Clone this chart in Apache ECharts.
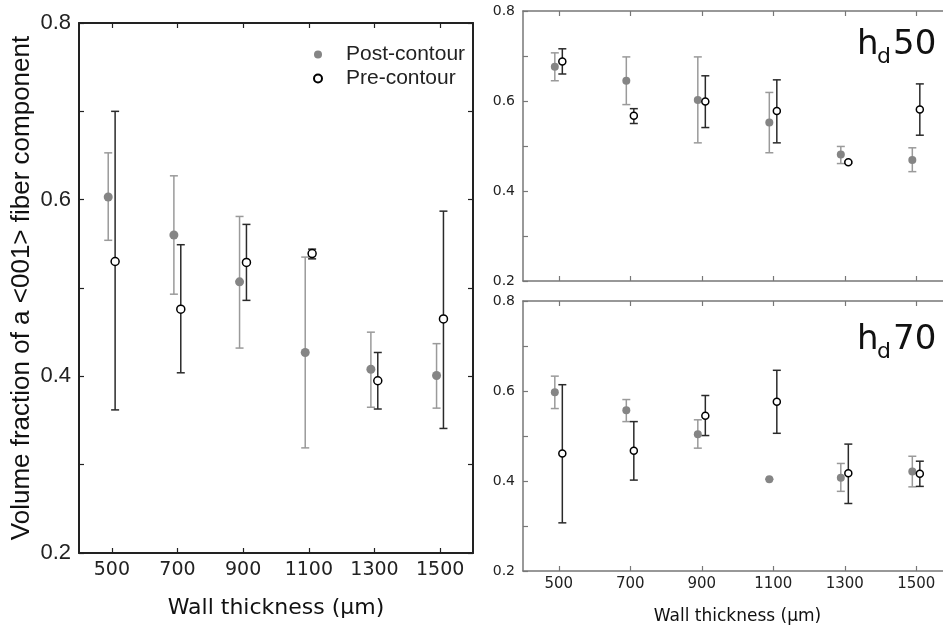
<!DOCTYPE html>
<html>
<head>
<meta charset="utf-8">
<script src="https://cdn.jsdelivr.net/npm/echarts@6/dist/echarts.min.js"></script>
<style>html,body{margin:0;padding:0;background:#fff}#c{width:943px;height:628px}</style>
</head>
<body>
<div id="c"></div>
<script>
// ---- data ----
const thickness = [500, 700, 900, 1100, 1300, 1500];
const yTicks = [0.2, 0.4, 0.6, 0.8];

// all samples (left panel)
const postAll = [0.603, 0.560, 0.507, 0.427, 0.408, 0.401];
const postAllLow = [0.554, 0.493, 0.432, 0.319, 0.365, 0.364];
const postAllHigh = [0.653, 0.627, 0.581, 0.535, 0.450, 0.437];
const preAll = [0.530, 0.476, 0.529, 0.539, 0.395, 0.465];
const preAllLow = [0.362, 0.404, 0.486, 0.533, 0.363, 0.341];
const preAllHigh = [0.700, 0.549, 0.572, 0.544, 0.427, 0.587];

// hd50
const post50 = [0.676, 0.645, 0.602, 0.552, 0.481, 0.469];
const post50Low = [0.645, 0.592, 0.507, 0.485, 0.461, 0.443];
const post50High = [0.707, 0.698, 0.698, 0.619, 0.499, 0.496];
const pre50 = [0.688, 0.567, 0.599, 0.578, 0.464, 0.581];
const pre50Low = [0.660, 0.550, 0.541, 0.507, 0.462, 0.524];
const pre50High = [0.716, 0.583, 0.656, 0.647, 0.466, 0.638];

// hd70
const post70 = [0.597, 0.557, 0.504, 0.404, 0.407, 0.421];
const post70Low = [0.561, 0.532, 0.473, 0.404, 0.377, 0.387];
const post70High = [0.633, 0.581, 0.536, 0.404, 0.439, 0.455];
const pre70 = [0.461, 0.467, 0.545, 0.576, 0.417, 0.416];
const pre70Low = [0.307, 0.402, 0.501, 0.506, 0.350, 0.388];
const pre70High = [0.614, 0.532, 0.590, 0.646, 0.482, 0.444];

const postOffset = -11, preOffset = 10;

// ---- styles ----
const POST_COLOR = '#858585', POST_BAR = '#9a9a9a', PRE_BAR = '#2a2a2a';
const SANS = "'Liberation Sans', Arial, sans-serif";
const DEJA = "'DejaVu Sans', Verdana, sans-serif";

function errRender(color, cap) {
  return function (params, api) {
    const x = api.value(0);
    const lo = api.coord([x, api.value(1)]);
    const hi = api.coord([x, api.value(2)]);
    const st = { stroke: color, lineWidth: 1.5 };
    return {
      type: 'group',
      children: [
        { type: 'line', shape: { x1: lo[0], y1: lo[1], x2: hi[0], y2: hi[1] }, style: st },
        { type: 'line', shape: { x1: lo[0] - cap, y1: lo[1], x2: lo[0] + cap, y2: lo[1] }, style: st },
        { type: 'line', shape: { x1: hi[0] - cap, y1: hi[1], x2: hi[0] + cap, y2: hi[1] }, style: st }
      ]
    };
  };
}

function panelSeries(ax, post, postLo, postHi, pre, preLo, preHi, size) {
  return [
    {
      type: 'custom', xAxisIndex: ax, yAxisIndex: ax, z: 2, silent: true,
      renderItem: errRender(POST_BAR, 4),
      encode: { x: 0, y: [1, 2] },
      data: thickness.map((t, i) => [t + postOffset, postLo[i], postHi[i]])
    },
    {
      type: 'custom', xAxisIndex: ax, yAxisIndex: ax, z: 2, silent: true,
      renderItem: errRender(PRE_BAR, 4),
      encode: { x: 0, y: [1, 2] },
      data: thickness.map((t, i) => [t + preOffset, preLo[i], preHi[i]])
    },
    {
      name: 'Post-contour', type: 'scatter', xAxisIndex: ax, yAxisIndex: ax, z: 3,
      symbol: 'circle', symbolSize: size,
      itemStyle: { color: POST_COLOR, opacity: 1 },
      data: thickness.map((t, i) => [t + postOffset, post[i]])
    },
    {
      name: 'Pre-contour', type: 'scatter', xAxisIndex: ax, yAxisIndex: ax, z: 4,
      symbol: 'circle', symbolSize: size - 1,
      itemStyle: { color: '#ffffff', borderColor: '#000000', borderWidth: 1.5, opacity: 1 },
      data: thickness.map((t, i) => [t + preOffset, pre[i]])
    }
  ];
}

function xAx(grid, pos, opts) {
  const c = opts.color;
  return Object.assign({
    type: 'value', gridIndex: grid, position: pos, min: 400, max: 1600,
    axisLine: { show: true, onZero: false, lineStyle: { color: c, width: opts.lw } },
    axisTick: { show: true, inside: true, length: 5, customValues: thickness, lineStyle: { color: c, width: 1.2 } },
    axisLabel: { show: !!opts.label, customValues: thickness, margin: opts.margin || 8,
      formatter: v => String(v),
      fontFamily: DEJA, fontSize: opts.fs || 15, color: '#222' },
    splitLine: { show: false }
  }, opts.extra || {});
}
function yAx(grid, pos, opts) {
  const c = opts.color;
  return Object.assign({
    type: 'value', gridIndex: grid, position: pos, min: 0.2, max: 0.8, interval: 0.1,
    axisLine: { show: true, onZero: false, lineStyle: { color: c, width: opts.lw } },
    axisTick: { show: true, inside: true, length: 5, lineStyle: { color: c, width: 1.2 } },
    axisLabel: { show: !!opts.label, customValues: yTicks, margin: opts.margin || 8,
      formatter: v => v.toFixed(1), fontFamily: opts.ff || DEJA, fontSize: opts.fs || 14, color: '#222' },
    splitLine: { show: false }
  }, opts.extra || {});
}

const LEFT = { color: '#222', lw: 2 };
const RIGHT = { color: '#777', lw: 1.5 };

const option = {
  animation: false,
  backgroundColor: '#ffffff',
  grid: [
    { left: 79, top: 23, width: 394, height: 530, outerBoundsMode: 'none', containLabel: false },
    { left: 523, top: 11, width: 429, height: 270, outerBoundsMode: 'none', containLabel: false },
    { left: 523, top: 301, width: 429, height: 270, outerBoundsMode: 'none', containLabel: false }
  ],
  legend: {
    orient: 'vertical', left: 308, top: 39, itemWidth: 46, itemHeight: 8, itemGap: 3,
    data: ['Post-contour', 'Pre-contour'],
    textStyle: { fontFamily: SANS, fontSize: 21, color: '#222' }
  },
  xAxis: [
    xAx(0, 'bottom', Object.assign({ label: true, fs: 19, margin: 8, extra: {
      name: 'Wall thickness (\u03bcm)', nameLocation: 'middle', nameGap: 44,
      nameTextStyle: { fontFamily: DEJA, fontSize: 22, color: '#111' } } }, LEFT)),
    xAx(0, 'top', LEFT),
    xAx(1, 'bottom', RIGHT),
    xAx(1, 'top', RIGHT),
    xAx(2, 'bottom', Object.assign({ label: true, fs: 15, margin: 6, extra: {
      name: 'Wall thickness (\u03bcm)', nameLocation: 'middle', nameGap: 37,
      nameTextStyle: { fontFamily: DEJA, fontSize: 17, color: '#111' } } }, RIGHT)),
    xAx(2, 'top', RIGHT)
  ],
  yAxis: [
    yAx(0, 'left', Object.assign({ label: true, ff: SANS, fs: 22, margin: 8, extra: {
      name: 'Volume fraction of a <001> fiber component', nameLocation: 'middle', nameGap: 44,
      nameTextStyle: { fontFamily: SANS, fontSize: 26, color: '#111' } } }, LEFT)),
    yAx(0, 'right', LEFT),
    yAx(1, 'left', Object.assign({ label: true, fs: 14, margin: 8 }, RIGHT)),
    yAx(1, 'right', RIGHT),
    yAx(2, 'left', Object.assign({ label: true, fs: 14, margin: 8 }, RIGHT)),
    yAx(2, 'right', RIGHT)
  ],
  graphic: [
    { type: 'text', left: 857, top: 28, style: { text: 'h', font: '34px ' + DEJA, fill: '#111' } },
    { type: 'text', left: 877, top: 46, style: { text: 'd', font: '22px ' + DEJA, fill: '#111' } },
    { type: 'text', left: 893, top: 28, style: { text: '50', font: '34px ' + DEJA, fill: '#111' } },
    { type: 'text', left: 857, top: 323, style: { text: 'h', font: '34px ' + DEJA, fill: '#111' } },
    { type: 'text', left: 877, top: 341, style: { text: 'd', font: '22px ' + DEJA, fill: '#111' } },
    { type: 'text', left: 893, top: 323, style: { text: '70', font: '34px ' + DEJA, fill: '#111' } }
  ],
  series: [].concat(
    panelSeries(0, postAll, postAllLow, postAllHigh, preAll, preAllLow, preAllHigh, 9),
    panelSeries(2, post50, post50Low, post50High, pre50, pre50Low, pre50High, 8),
    panelSeries(4, post70, post70Low, post70High, pre70, pre70Low, pre70High, 8)
  )
};

const chart = echarts.init(document.getElementById('c'), null, { renderer: 'canvas' });
chart.setOption(option);
</script>
</body>
</html>
